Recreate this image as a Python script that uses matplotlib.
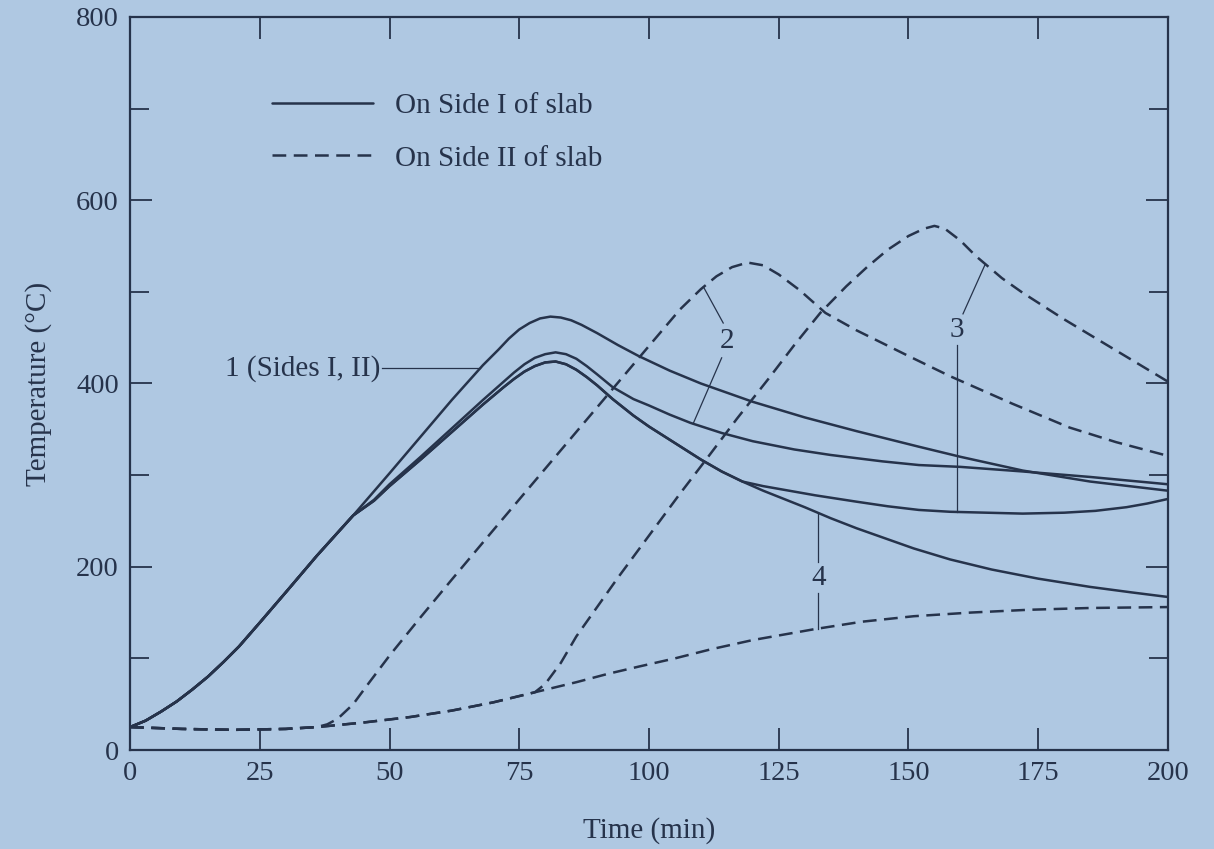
import numpy as np
import matplotlib
matplotlib.use("Agg")
import matplotlib.pyplot as plt
from matplotlib.lines import Line2D

# ---------------- data (time in min, temperature in deg C) ----------------
# Curve 1: both sides exposed (Side I = Side II)
t_c1 = [0, 3, 6, 9, 12, 15, 18, 21, 25, 30, 36, 43, 50, 56, 62, 68, 71, 73, 75, 77, 79, 81, 83, 85,
        87, 90, 94, 98, 104, 110, 120, 130, 140, 152, 160, 172, 185, 200]
T_c1 = [25, 32, 42, 53, 66, 80, 96, 113, 139, 172, 212, 256, 302, 342, 382, 420, 437, 449, 459, 466,
        471, 473, 472, 469, 464, 455, 442, 430, 414, 400, 380, 363, 348, 331, 320, 305, 293, 283]

# Curve 2, Side I
t_c2_s1 = [0, 3, 6, 9, 12, 15, 18, 21, 25, 30, 36, 43, 47, 50, 56, 62, 68, 72, 74, 76, 78, 80, 82, 84,
           86, 88, 90, 93, 97, 100, 104, 108, 114, 120, 128, 135, 145, 152, 160, 172, 185, 200]
T_c2_s1 = [25, 32, 42, 53, 66, 80, 96, 113, 139, 172, 212, 256, 273, 290, 320, 351, 382, 402, 412, 421,
           428, 432, 434, 432, 427, 419, 410, 396, 383, 376, 366, 357, 346, 337, 328, 322, 315, 311, 309,
           304, 298, 290]

# Curve 3, Side I
t_c3_s1 = [0, 3, 6, 9, 12, 15, 18, 21, 25, 30, 36, 43, 47, 50, 56, 62, 68, 72, 74, 76, 78, 80, 82, 84,
           86, 88, 90, 93, 97, 100, 105, 110, 114, 118, 122, 126, 132, 140, 146, 152, 158, 165, 172, 180,
           186, 192, 196, 200]
T_c3_s1 = [25, 32, 42, 53, 66, 80, 96, 113, 139, 172, 212, 256, 272, 288, 317, 347, 377, 396, 405, 413,
           419, 423, 424, 421, 415, 407, 398, 383, 365, 353, 335, 317, 304, 293, 288, 284, 278, 271, 266,
           262, 260, 259, 258, 259, 261, 265, 269, 274]

# Curve 4, Side I
t_c4_s1 = [0, 3, 6, 9, 12, 15, 18, 21, 25, 30, 36, 43, 47, 50, 56, 62, 68, 72, 74, 76, 78, 80, 82, 84,
           86, 88, 90, 93, 97, 100, 105, 110, 114, 118, 122, 126, 130, 135, 140, 145, 151, 158, 166, 175,
           185, 193, 200]
T_c4_s1 = [25, 32, 42, 53, 66, 80, 96, 113, 139, 172, 212, 256, 272, 288, 317, 347, 377, 396, 405, 413,
           419, 423, 424, 421, 415, 407, 398, 383, 365, 353, 335, 317, 304, 293, 283, 274, 265, 253, 242,
           232, 220, 208, 197, 187, 178, 172, 167]

# Curve 2, Side II
t_c2_s2 = [0, 10, 20, 30, 36, 38, 40, 43, 46, 50, 56, 62, 70, 80, 90, 100, 106, 110, 113, 116, 119,
           122, 125, 129, 134, 140, 150, 158, 170, 181, 190, 200]
T_c2_s2 = [25, 23, 22, 23, 25, 28, 34, 50, 73, 103, 145, 186, 240, 307, 374, 441, 481, 503, 517, 527,
           532, 529, 519, 502, 477, 458, 430, 408, 378, 352, 336, 321]

# Curve 3, Side II
t_c3_s2 = [0, 10, 20, 30, 36, 45, 54, 62, 70, 78, 80, 83, 86, 90, 94, 100, 106, 111, 117, 123, 128,
           133, 138, 142, 146, 150, 153, 155, 157, 160, 163, 168, 172, 180, 190, 200]
T_c3_s2 = [25, 23, 22, 23, 25, 30, 36, 43, 52, 63, 72, 95, 124, 156, 188, 234, 280, 317, 362, 405, 442,
           477, 506, 527, 546, 561, 569, 572, 569, 556, 539, 515, 499, 470, 436, 402]

# Curve 4, Side II
t_c4_s2 = [0, 10, 20, 30, 36, 45, 54, 62, 70, 78, 86, 92, 98, 105, 112, 120, 132, 141, 151, 162, 173,
           185, 200]
T_c4_s2 = [25, 23, 22, 23, 25, 30, 36, 43, 52, 63, 74, 83, 91, 100, 110, 120, 132, 140, 146, 150, 153,
           155, 156]

x_ticks = [0, 25, 50, 75, 100, 125, 150, 175, 200]
y_major = [0, 200, 400, 600, 800]
y_minor = [100, 300, 500, 700]
legend_labels = ["On Side I of slab", "On Side II of slab"]
curve_label_1 = "1 (Sides I, II)"

# ---------------- style ----------------
BG = "#afc8e2"
INK = "#26334b"
LW = 1.8
DASH = (0, (5.5, 3.0))
plt.rcParams["font.family"] = ["Liberation Serif", "DejaVu Serif"]

fig = plt.figure(figsize=(12.14, 8.49), dpi=100, facecolor=BG)
ax = fig.add_axes([0.1071, 1 - 750 / 849, 0.855, (750 - 17) / 849], facecolor=BG)

solid = dict(color=INK, lw=LW, solid_capstyle="round", solid_joinstyle="round")
dashed = dict(color=INK, lw=LW, linestyle=DASH)

ax.plot(t_c1, T_c1, **solid)
ax.plot(t_c2_s1, T_c2_s1, **solid)
ax.plot(t_c3_s1, T_c3_s1, **solid)
ax.plot(t_c4_s1, T_c4_s1, **solid)
ax.plot(t_c4_s2, T_c4_s2, **dashed)
ax.plot(t_c3_s2, T_c3_s2, **dashed)
ax.plot(t_c2_s2, T_c2_s2, **dashed)

ax.set_xlim(0, 200)
ax.set_ylim(0, 800)

# ---------------- annotations ----------------
thin = dict(color=INK, lw=0.9)
FS = 21

def on(tq, tt, TT):
    return float(np.interp(tq, tt, TT))

# 1 (Sides I, II)
y1 = on(67.5, t_c1, T_c1)
ax.plot([48.5, 67.5], [y1, y1], **thin)
ax.text(48.3, y1, curve_label_1, ha="right", va="center", fontsize=FS, color=INK)

# 2
ax.text(115.0, 446, "2", ha="center", va="center", fontsize=FS, color=INK)
ax.plot([114.3, 110.5], [466, on(110.5, t_c2_s2, T_c2_s2)], **thin)
ax.plot([114.0, 108.5], [428, on(108.5, t_c2_s1, T_c2_s1)], **thin)

# 3
ax.text(159.3, 458, "3", ha="center", va="center", fontsize=FS, color=INK)
ax.plot([160.5, 164.8], [476, on(164.8, t_c3_s2, T_c3_s2)], **thin)
ax.plot([159.3, 159.3], [442, on(159.3, t_c3_s1, T_c3_s1)], **thin)

# 4
ax.text(132.6, 188, "4", ha="center", va="center", fontsize=FS, color=INK)
ax.plot([132.6, 132.6], [205, on(132.6, t_c4_s1, T_c4_s1)], **thin)
ax.plot([132.6, 132.6], [171, on(132.6, t_c4_s2, T_c4_s2)], **thin)

# ---------------- legend ----------------
handles = [Line2D([], [], **solid), Line2D([], [], **dashed)]
leg = ax.legend(handles, legend_labels, loc="upper left", bbox_to_anchor=(0.137, 0.897),
                frameon=False, fontsize=FS, handlelength=3.45, handletextpad=0.75,
                labelspacing=0.9, borderpad=0, borderaxespad=0)
for txt in leg.get_texts():
    txt.set_color(INK)

# ---------------- axes ----------------
for s in ax.spines.values():
    s.set_color(INK)
    s.set_linewidth(1.6)

ax.set_xticks(x_ticks)
ax.set_xticklabels([str(v) for v in x_ticks])
ax.set_yticks(y_major)
ax.set_yticklabels([str(v) for v in y_major])
ax.set_yticks(y_minor, minor=True)
ax.tick_params(axis="both", which="both", direction="in", color=INK, width=1.3,
               labelsize=20.5, labelcolor=INK, top=True, right=True, pad=8)
ax.tick_params(axis="both", which="major", length=16)
ax.tick_params(axis="both", which="minor", length=14)
ax.tick_params(axis="x", which="minor", bottom=False, top=False)

ax.set_xlabel("Time (min)", fontsize=FS, color=INK, labelpad=22)
ax.set_ylabel("Temperature (°C)", fontsize=FS, color=INK, labelpad=17)

fig.savefig("out.png", dpi=100, facecolor=BG)
